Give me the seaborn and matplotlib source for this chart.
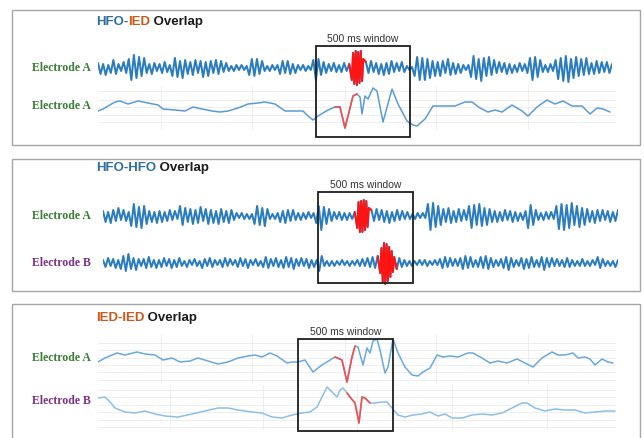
import numpy as np
import matplotlib
matplotlib.use("Agg")
import matplotlib.pyplot as plt
import seaborn as sns
from matplotlib.patches import Rectangle

W, H = 644, 438

# ---------------- data (amplitudes) ----------------
# panel 1 : HFO-IED overlap, electrode A (HFO band, signed peak values)
p1_hfo_pre = [5, -6, 4, -7, 3, -5, 8, -6, 4, -3, 6, -5,
              9, -12, 13, -10, 11, -8, 10,
              -5, 4, -6, 5, -3, 4, -5, 6, -4, 3,
              -8, 10, -9, 7, -10, 8, -6,
              6, -7, 8, -5, 7, -9, 6, -8, 7, -5, 8, -6, 7, -4, 5,
              -3, 2, -3, 3, -2, 3, -2, 2,
              -7, 9, -8, 9, -6, 7,
              -3, 2, -3, 3, -2, 3,
              -6, 7, -5, 7, -6, 4, -5,
              3, -2, 3, -3, 2, -2,
              8, -12, 9, -7, 6, -5,
              4, -3, 5, -4, 3, -4, 5, -3, 4]
p1_hfo_burst = [-12, 15, -16, 17, -17, 16, -15, 17, -13, 9]
p1_hfo_post = [6, -5, 7, -4, 5, -6,
               4, -7, 5, -6, 7, -4, 5, -3, 6, -4,
               2, -2, 1,
               -8, 11, -12, 10, -12, 9, -10, 7, -8,
               6, -8, 7, -5, 9, -7, 5, -6, 4, -5,
               3, -2, 3,
               -9, 12, -11, 9, -13, 10, -8, 11, -7, 8,
               -5, 6, -4, 5, -6, 4, -5, 3, -4, 5, -3, 4, -5,
               10, -12, 11, -9, 8,
               -4, 3, -4, 4, -3,
               8, -11, 10, -13, 12, -14, 9, -10, 11, -8, 9, -7, 10, -6,
               5, -6, 7, -5, 6, -4, 6, -5, 4]

# panel 1 : electrode A, raw trace (time ms, amplitude)
p1_lfp_t = [0, 25, 85, 110, 150, 200, 250, 300, 325, 385, 435, 475, 520, 570,
            610, 650, 700, 750, 800, 835, 885, 935, 985, 1025, 1050, 1075, 1100,
            1150, 1185, 1210, 1235, 1250, 1275, 1295, 1310, 1320, 1335, 1350,
            1375, 1395, 1425, 1470, 1500, 1545, 1575, 1595, 1635, 1675, 1710,
            1745, 1785, 1835, 1870, 1910, 1950, 1985, 2020, 2070, 2120, 2150,
            2195, 2245, 2285, 2325, 2370, 2420, 2460, 2495, 2525, 2560]
p1_lfp_v = [-5, -3, 4, 5, 2, 5, 3, 1, -3, -4, -5, -1, -3, -5,
            -6, -5, -2, 2, 3, 4, 2, -5, -5, -5, -10, -14, -10,
            -4, -1, -1, -22, -10, 10, 12, 9, -8, 10, 7,
            18, 15, -16, 17, 2, -15, -19, -20, -13, 0, 0,
            0, 0, 4, 4, -2, -6, -4, -6, 1, -5, -10,
            -1, 6, 2, 5, 0, 0, -8, -2, -3, -6]
p1_ied = (1185, 1295)

# panel 2 : HFO-HFO overlap, electrode A
p2a_pre = [5, -6, 4, -7, 6, -5, 8, -4, 6, -5, 4,
           -10, 12, -11, 9, -12, 10, -8,
           5, -6, 4, -7, 5, -6, 4, -5, 6, -4, 5, -3,
           10, -9, 8,
           -6, 7, -8, 6, -7, 9, -5, 7, -8, 6, -7, 5, -8, 7, -6, 5, -7, 6, -4,
           3, -2, 3, -3, 2, -3, 2,
           -8, 10, -9, 8, -10, 7,
           -3, 2, -3, 3,
           -6, 5, -7, 6, -5, 6, -4,
           3, -4, 3, -3, 4, -2, 3,
           -7, 10, -14, 9, -8, 7, -5,
           4, -3, 4, -4, 3, -4, 3, -3, 4]
p2a_burst = [-12, 14, -16, 15, -16, 16, -14, 15, -11, 8]
p2a_post = [6, -5, 7, -4, 6, -6, 5, -7, 4, -5, 6, -4, 5, -3, 4,
            -3, 2, -3, 3, -2, 3, -2,
            12, -14, 13, -11, 10, -9,
            7, -6, 8, -7, 5, -6, 7, -5, 6, -4,
            10, -12, 11, -9, 12, -10, 8, -9, 7,
            -6, 5, -6, 4, -5, 6, -4, 5, -6, 4, -5, 3, -4, 5,
            -12, 11, -9, 6,
            -4, 3, -4, 4, -3, 4, -3,
            10, -13, 12, -14, 11, -12, 13, -9, 10, -11, 8, -9, 7,
            -6, 5, -7, 6, -5, 6, -4, 5, -6, 4, -5, 6]

# panel 2 : electrode B
p2b_pre = [3, -4, 5, -3, 4, -5, 3,
           -6, 7, -8, 9, -6, 5, -7, 4,
           -3, 4, -5, 6, -4, 3, -5, 3,
           -4, 5, -3, 4, -5, 3, -4, 5,
           -3, 2, -4, 3, -2, 4, -3, 2,
           -5, 4, -3, 5, -4, 3, -2, 3,
           -4, 5, -3, 4, -2, 3, -4, 5,
           -3, 4, -5, 3, -2, 4, -3, 2,
           -4, 6, -5, 4, -3, 5, -4, 3,
           -5, 6, -4, 5, -6, 4, -3, 5,
           -3, 4, -5, 3, -4, 3,
           -8, 7,
           -3, 2, -3, 2, -3, 2, -2, 3, -2, 2, -3, 2, -2, 3, -3, 4, -3, 5, -4, 6, -5, 7]
p2b_burst = [-10, 15, -19, 20, -21, 19, -18, 16, -14, 12, -9, 6]
p2b_post = [-6, 5, -4, 3, -3, 2, -3, 2, -2,
            3, -2, 3, -3, 2, -2, 3, -2,
            4, -5, 6, -4, 5, -3, 4, -3,
            5, -6, 7, -5, 6, -4, 3, -4,
            6, -5, 7, -6, 5, -4, 3, -3,
            4, -5, 6, -7, 5, -4, 3, -3,
            5, -6, 4, -5, 6, -4, 3, -4,
            6, -7, 5, -4, 5, -3, 4, -3,
            3, -4, 5, -4, 3, -3, 2, -3,
            4, -3, 2, -3, 3, -2, 6, -5,
            4, -3, 2, -3, 2, -4, 3]

# panel 3 : IED-IED overlap, electrode A
p3a_t = [0, 35, 95, 135, 195, 235, 285, 325, 370, 410, 460, 500, 550, 600,
         650, 700, 750, 785, 820, 860, 895, 945, 970, 1000, 1035, 1075, 1120,
         1185, 1220, 1245, 1270, 1285, 1300, 1325, 1345, 1360, 1375, 1395,
         1410, 1435, 1450, 1475, 1500, 1535, 1570, 1600, 1625, 1660, 1695,
         1725, 1760, 1800, 1850, 1875, 1920, 1960, 2000, 2045, 2095, 2135,
         2175, 2220, 2270, 2300, 2335, 2375, 2400, 2435, 2460, 2485, 2520,
         2550, 2575]
p3a_v = [-4, 0, 5, 3, 6, 4, 3, -2, 0, -4, -3, 0, -3, -6,
         -4, 0, 2, 3, 1, 5, 2, -5, -4, -4, -2, -14, -7,
         1, -2, -24, 1, 12, 11, -7, 10, 5, 17, 19,
         8, -15, -9, 19, 5, -9, -17, -18, -14, -10, 3,
         1, 2, 1, 5, 5, 0, -5, -3, -5, -1, -5,
         -9, 0, 6, 3, 3, 5, 0, 1, -1, -7, -1,
         -4, -5]
p3a_ied = (1185, 1285)

# panel 3 : electrode B
p3b_t = [0, 35, 60, 85, 135, 185, 235, 285, 335, 400, 470, 535, 600, 650,
         700, 770, 820, 870, 920, 970, 1020, 1060, 1095, 1120, 1145, 1160,
         1175, 1195, 1210, 1225, 1245, 1260, 1285, 1305, 1320, 1335, 1360,
         1385, 1420, 1445, 1470, 1500, 1535, 1575, 1620, 1660, 1700, 1735,
         1770, 1820, 1870, 1920, 1970, 2020, 2070, 2120, 2145, 2185, 2235,
         2285, 2335, 2385, 2435, 2485, 2535, 2585]
p3b_v = [7, 8, 3, -3, -7, -8, -6, -9, -11, -12, -9, -6, -3, -3,
         -5, -7, -8, -12, -13, -10, -8, -7, -2, 8, 18, 15,
         12, 8, 15, 17, 12, 8, 2, -18, 8, 7, 2,
         2, 3, 3, -3, -10, -12, -10, -9, -7, -11, -9,
         -13, -13, -10, -9, -10, -8, -3, 2, 2, -3, -6,
         -4, -5, -5, -8, -7, -6, -6]
p3b_ied = (1245, 1360)

# ---------------- drawing ----------------
sns.set_theme(style="white")
plt.rcParams["font.family"] = ["Liberation Sans", "DejaVu Sans"]

HFO_BLUE = "#2a7cbf"
HFO_RED = "#ff1414"
LFP_RED = "#f2504f"
GREEN = "#3a7d34"
PURPLE = "#7d2f86"
T_BLUE = "#2d6f9c"
T_ORANGE = "#c8591a"

fig = plt.figure(figsize=(W / 100, H / 100), dpi=100)


def trace_axes(x0, x1, y_top, y_bot):
    return fig.add_axes([x0 / W, 1 - y_bot / H, (x1 - x0) / W, (y_bot - y_top) / H])


def draw_hfo(x0, x1, yc, pre, burst, post):
    ax = trace_axes(x0, x1, yc - 24, yc + 24)
    # the burst oscillates twice as fast as the background band
    x_pre = np.arange(len(pre), dtype=float)
    x_burst = len(pre) + 0.5 * np.arange(len(burst))
    x_post = x_burst[-1] + 1 + np.arange(len(post))
    xs = np.concatenate([x_pre, x_burst, x_post])
    vals = np.array(pre + burst + post, dtype=float)
    sns.lineplot(x=xs, y=vals, ax=ax, color=HFO_BLUE, linewidth=1.45)
    a, b = len(pre) - 1, len(pre) + len(burst) + 1
    sns.lineplot(x=xs[a:b], y=vals[a:b], ax=ax, color=HFO_RED, linewidth=1.4)
    ax.set_xlim(0, xs[-1])
    ax.set_ylim(-24, 24)
    ax.axis("off")


def draw_lfp(y_top, y_bot, yc, t, v, span, color, vgrid, hgrid):
    ax = trace_axes(98, 98 + 2590 / 5, y_top, y_bot)
    t = np.array(t, dtype=float)
    v = np.array(v, dtype=float)
    sns.lineplot(x=t, y=v, ax=ax, color=color, linewidth=1.1)
    m = (t >= span[0]) & (t <= span[1])
    sns.lineplot(x=t[m], y=v[m], ax=ax, color=LFP_RED, linewidth=1.2)
    ax.set_xlim(0, 2590)
    ax.set_ylim(yc - y_bot, yc - y_top)
    ax.set_xticks(vgrid)
    ax.set_yticks(hgrid)
    ax.grid(True, color="#ebebeb", linewidth=0.6)
    ax.tick_params(length=0, labelbottom=False, labelleft=False)
    ax.set_xlabel("")
    ax.set_ylabel("")
    for s in ax.spines.values():
        s.set_visible(False)
    ax.patch.set_alpha(0)


# panel 1
draw_hfo(98, 612, 68, p1_hfo_pre, p1_hfo_burst, p1_hfo_post)
draw_lfp(86, 130, 106, p1_lfp_t, p1_lfp_v, p1_ied, "#5b9bd5",
         [315, 770, 1235, 1690, 2150], [15, 6, -1, -9, -16])
# panel 2
draw_hfo(103, 618, 216, p2a_pre, p2a_burst, p2a_post)
draw_hfo(103, 618, 263, p2b_pre, p2b_burst, p2b_post)
# panel 3
draw_lfp(334, 384, 358, p3a_t, p3a_v, p3a_ied, "#6aa8dc",
         [315, 770, 1235, 1690, 2150], [15, 8, 0, -7, -14, -22])
draw_lfp(385, 430, 405, p3b_t, p3b_v, p3b_ied, "#8cbfe6",
         [360, 825, 1295, 1770, 2245], [15, 8, 0, -7, -15, -22])

# overlay: frames, windows, labels
ov = fig.add_axes([0, 0, 1, 1])
ov.set_xlim(0, W)
ov.set_ylim(H, 0)
ov.axis("off")
ov.patch.set_alpha(0)

for y0, y1 in [(10, 145), (159, 291), (304, 445)]:
    ov.add_patch(Rectangle((12, y0), 628, y1 - y0, fill=False, ec="#a6a6a6", lw=1.0))

for (bx0, by0, bx1, by1) in [(316, 46, 410, 137), (318, 192, 413, 283), (298, 339, 393, 431)]:
    ov.add_patch(Rectangle((bx0, by0), bx1 - bx0, by1 - by0, fill=False, ec="#1e1e1e", lw=1.3))
    ov.text((bx0 + bx1) / 2, by0 - 7, "500 ms window", ha="center", va="center",
            fontsize=7.5, color="#333333")

renderer = fig.canvas.get_renderer()


def colored_title(parts, x, y):
    for s, c in parts:
        t = ov.text(x, y, s, color=c, fontsize=9.5, fontweight="bold", ha="left", va="center")
        x += t.get_window_extent(renderer=renderer).width


colored_title([("HFO-", T_BLUE), ("IED", T_ORANGE), (" Overlap", "#1a1a1a")], 96, 22)
colored_title([("HFO-HFO", T_BLUE), (" Overlap", "#1a1a1a")], 96, 168)
colored_title([("IED-IED", T_ORANGE), (" Overlap", "#1a1a1a")], 96, 318)

for label, y, c in [("Electrode A", 68, GREEN), ("Electrode A", 106, GREEN),
                    ("Electrode A", 216, GREEN), ("Electrode B", 263, PURPLE),
                    ("Electrode A", 358, GREEN), ("Electrode B", 401, PURPLE)]:
    ov.text(91, y, label, ha="right", va="center", fontsize=8.5, fontweight="bold",
            color=c, family=["Liberation Serif", "DejaVu Serif"])

fig.savefig("out.png", dpi=100)
